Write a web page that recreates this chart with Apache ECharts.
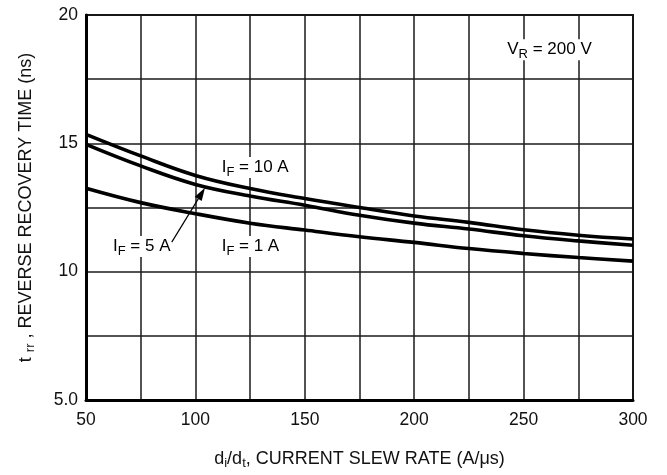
<!DOCTYPE html>
<html><head><meta charset="utf-8">
<script src="https://cdn.jsdelivr.net/npm/echarts@6/dist/echarts.min.js"></script>
<style>html,body{margin:0;padding:0;background:#fff}#c{width:667px;height:475px}</style>
</head><body><div id="c"></div>
<script>
// Data
const slewRate = [50, 75, 100, 125, 150, 175, 200, 225, 250, 275, 300];
const trr10A = [15.35, 14.51, 13.75, 13.24, 12.85, 12.50, 12.17, 11.92, 11.63, 11.42, 11.27];
const trr5A  = [14.96, 14.12, 13.40, 12.95, 12.59, 12.20, 11.89, 11.66, 11.40, 11.20, 11.03];
const trr1A  = [13.25, 12.69, 12.26, 11.89, 11.62, 11.36, 11.14, 10.90, 10.71, 10.55, 10.41];
const xTickLabels = [50, 100, 150, 200, 250, 300];
const yTickLabels = {5: '5.0', 10: '10', 15: '15', 20: '20'};

const FONT = "'Liberation Sans', Arial, sans-serif";
const rich = (m, s) => ({
  m: {fontSize: m, lineHeight: m, verticalAlign: 'top', fontFamily: FONT, color: '#111'},
  s: {fontSize: s, lineHeight: s, verticalAlign: 'top', padding: [7, 0, 0, 0], fontFamily: FONT, color: '#111'}
});

const chart = echarts.init(document.getElementById('c'), null, {renderer: 'canvas'});
const pair = arr => slewRate.map((x, i) => [x, arr[i]]);
const lineSeries = (name, arr) => ({
  name, type: 'line', data: pair(arr), smooth: 0.4, showSymbol: false, symbol: 'none',
  lineStyle: {color: '#000', width: 3.6}, z: 5, animation: false
});

chart.setOption({
  animation: false,
  backgroundColor: '#fff',
  grid: {left: 86, right: 34, top: 15, bottom: 75, show: true, borderColor: '#111', borderWidth: 2, backgroundColor: 'transparent'},
  xAxis: {
    type: 'value', min: 50, max: 300, interval: 25,
    axisLine: {show: true, onZero: false, lineStyle: {color: '#000', width: 3}},
    axisTick: {show: false},
    splitLine: {show: true, lineStyle: {color: '#1a1a1a', width: 1.5}},
    axisLabel: {margin: 11, fontSize: 17.5, fontFamily: FONT, color: '#111',
      formatter: v => xTickLabels.includes(v) ? String(v) : ''},
    name: '{m|d}{s|i}{m|/d}{s|t}{m|, CURRENT SLEW RATE (A/\u03bcs)}',
    nameLocation: 'middle', nameGap: 50,
    nameTextStyle: {rich: rich(18, 13)}
  },
  yAxis: {
    type: 'value', min: 5, max: 20, interval: 2.5,
    axisLine: {show: true, onZero: false, lineStyle: {color: '#000', width: 3}},
    axisTick: {show: false},
    splitLine: {show: true, lineStyle: {color: '#1a1a1a', width: 1.5}},
    axisLabel: {margin: 8, fontSize: 17.5, fontFamily: FONT, color: '#111',
      formatter: v => yTickLabels[v] || ''},
    name: '{m|t }{s|rr}{m| , REVERSE RECOVERY TIME (ns)}',
    nameLocation: 'middle', nameGap: 51, nameRotate: 90,
    nameTextStyle: {rich: rich(18, 13)}
  },
  series: [
    lineSeries('IF = 10 A', trr10A),
    lineSeries('IF = 5 A', trr5A),
    lineSeries('IF = 1 A', trr1A)
  ]
});

// Annotations anchored in data coordinates
const labels = [
  {text: '{m|I}{s|F}{m| = 10 A}', at: [112, 14.06]},
  {text: '{m|I}{s|F}{m| = 5 A}', at: [62.3, 10.98]},
  {text: '{m|I}{s|F}{m| = 1 A}', at: [112, 10.98]},
  {text: '{m|V}{s|R}{m| = 200 V}', at: [242.5, 18.65]}
];
const arrowTail = [89.2, 11.15];
const arrowHead = [104.4, 13.27];

const px = p => chart.convertToPixel({gridIndex: 0}, p);
const graphics = labels.map(l => {
  const p = px(l.at);
  return {
    type: 'text', x: p[0] - 2, y: p[1], z: 20,
    style: {text: l.text, rich: rich(17, 13), align: 'left', verticalAlign: 'middle',
      backgroundColor: '#fff', padding: [2, 2, 2, 2]}
  };
});
const t = px(arrowTail), h = px(arrowHead);
const dx = h[0] - t[0], dy = h[1] - t[1], len = Math.hypot(dx, dy);
const ux = dx / len, uy = dy / len, hl = 13, hw = 4;
const bx = h[0] - ux * hl, by = h[1] - uy * hl;
graphics.push({type: 'line', z: 21, shape: {x1: t[0], y1: t[1], x2: bx, y2: by}, style: {stroke: '#000', lineWidth: 1.2}});
graphics.push({type: 'polygon', z: 21, shape: {points: [h, [bx - uy * hw, by + ux * hw], [bx + uy * hw, by - ux * hw]]}, style: {fill: '#000'}});
chart.setOption({graphic: graphics});
</script>
</body></html>
